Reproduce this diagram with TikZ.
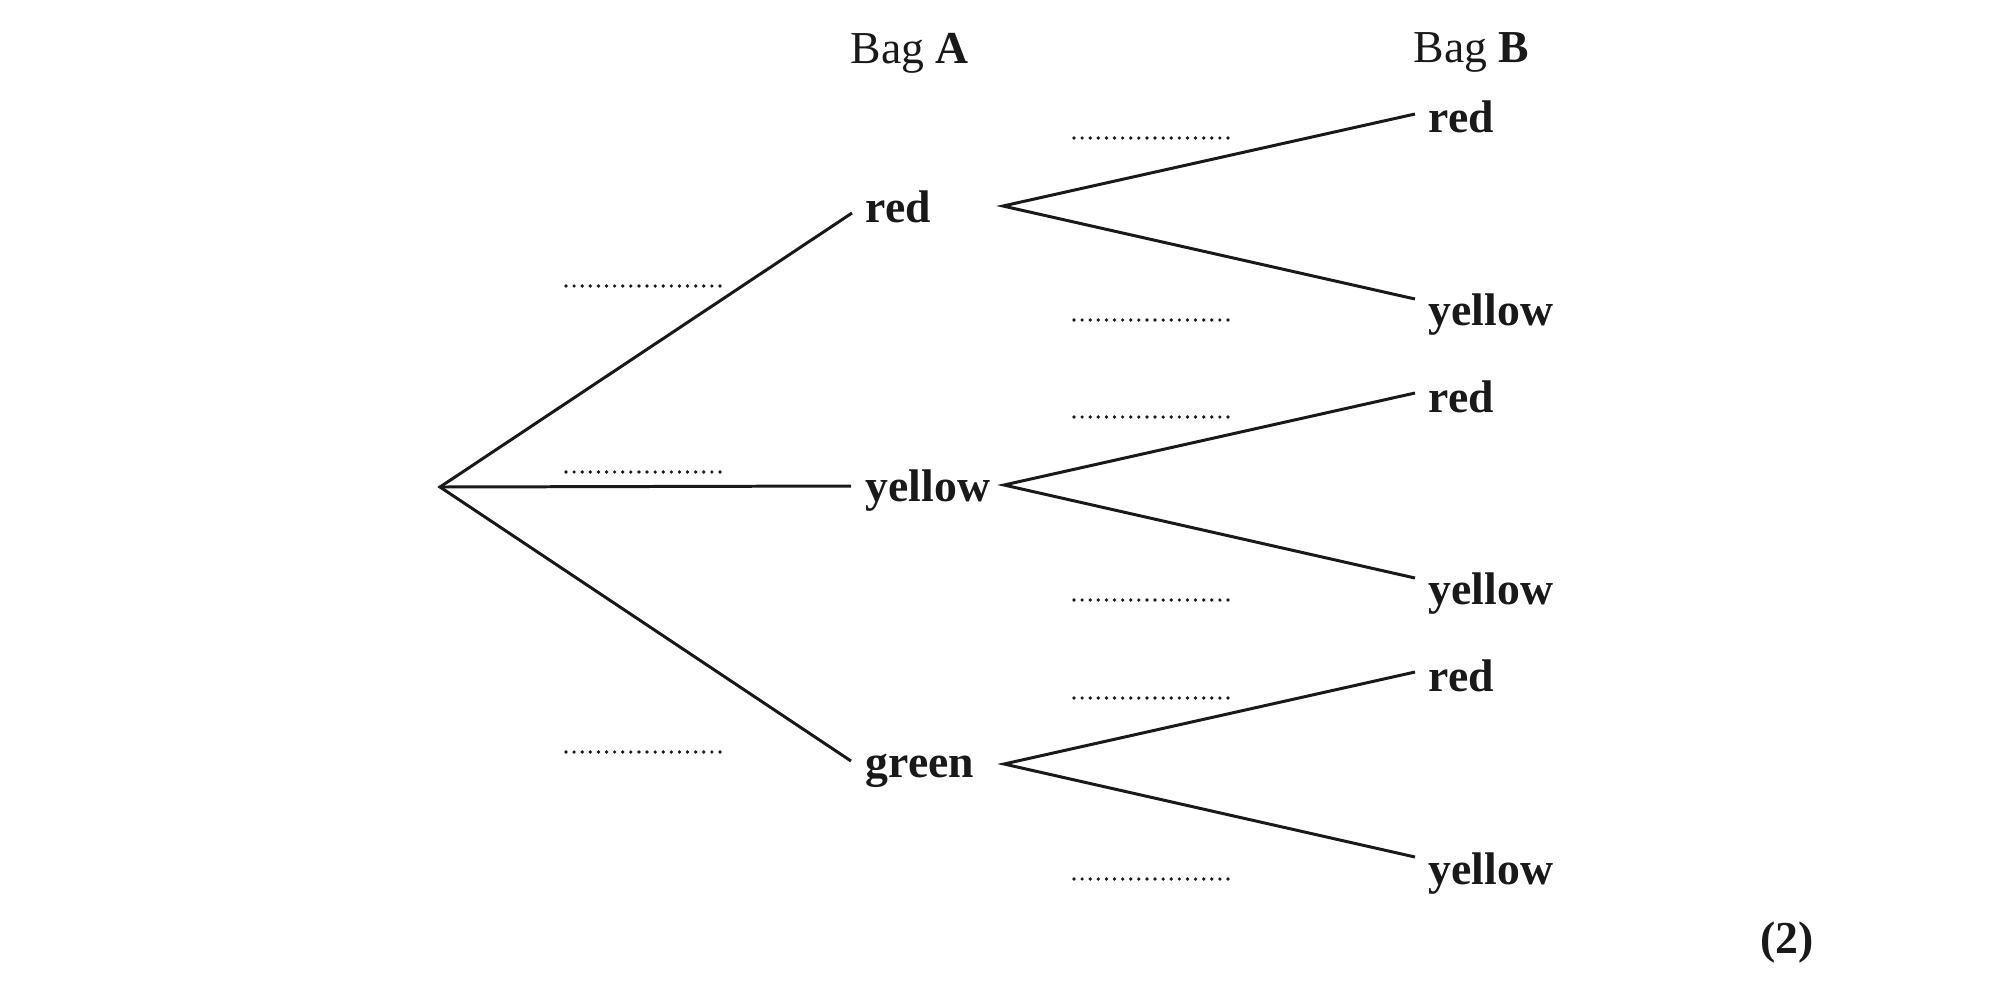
\documentclass[tikz,border=0pt]{standalone}
\usepackage{fontspec}
\setmainfont{Liberation Serif}
\begin{document}
\begin{tikzpicture}[x=0.01cm,y=-0.01cm,
  branch/.style={line width=0.85pt, draw=black!90},
  blank/.style={line width=1.05pt, line cap=round, dash pattern=on 0pt off 0.081cm, draw=black!90},
  lbl/.style={anchor=base west, inner sep=0pt, font=\fontsize{13}{15}\selectfont\bfseries, text=black!90},
  hdr/.style={anchor=base west, inner sep=0pt, font=\fontsize{13}{15}\selectfont, text=black!90}]
\useasboundingbox (0,0) rectangle (2000,987);
% headers
\node[hdr] (bagA) at (850,63) {Bag \textbf{A}};
\node[hdr] (bagB) at (1413,62) {Bag \textbf{B}};
% first level labels
\node[lbl] (Ared) at (865,222) {red};
\node[lbl] (Ayel) at (865,501) {yellow};
\node[lbl] (Agrn) at (865,777) {green};
% second level labels
\node[lbl] (B1) at (1428,132) {red};
\node[lbl] (B2) at (1428,325) {yellow};
\node[lbl] (B3) at (1428,412) {red};
\node[lbl] (B4) at (1428,604) {yellow};
\node[lbl] (B5) at (1428,691) {red};
\node[lbl] (B6) at (1428,884) {yellow};
\node[lbl] (marks) at (1760,953) {(2)};
% branch points
\coordinate (root) at (440,487);
\coordinate (e1) at (852,213);
\coordinate (e2) at (851,486);
\coordinate (e3) at (851,761);
\coordinate (s1) at (1003,206);
\coordinate (s2) at (1004,485);
\coordinate (s3) at (1004,764);
\coordinate (t1) at (1415,114);
\coordinate (t2) at (1415,299);
\coordinate (t3) at (1415,393);
\coordinate (t4) at (1415,578);
\coordinate (t5) at (1415,672);
\coordinate (t6) at (1415,857);
\draw[branch] (e1) -- (root) -- (e3);
\draw[branch] (root) -- (e2);
\draw[branch] (t1) -- (s1) -- (t2);
\draw[branch] (t3) -- (s2) -- (t4);
\draw[branch] (t5) -- (s3) -- (t6);
% answer blanks
\foreach \y in {286,472,752} \draw[blank] (566,\y) -- (720,\y);
\foreach \y in {138,320,417,600,698,879} \draw[blank] (1074,\y) -- (1228,\y);
\end{tikzpicture}
\end{document}
